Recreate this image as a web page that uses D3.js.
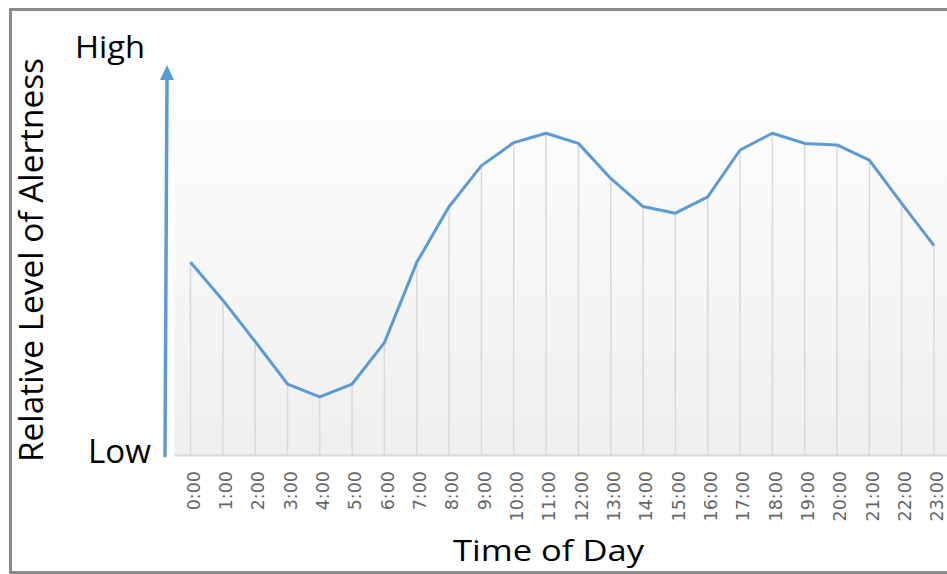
<!DOCTYPE html>
<html><head><meta charset="utf-8">
<script src="https://cdn.jsdelivr.net/npm/d3@7/dist/d3.min.js"></script>
<style>html,body{margin:0;padding:0;background:#fff;overflow:hidden}</style>
</head><body>
<svg id="c" width="947" height="574"></svg>
<script>
const hours = ["0:00","1:00","2:00","3:00","4:00","5:00","6:00","7:00","8:00","9:00","10:00","11:00","12:00","13:00","14:00","15:00","16:00","17:00","18:00","19:00","20:00","21:00","22:00","23:00"];
const alertness = [49.4,39.7,29.1,18.2,14.9,18.2,28.8,49.4,63.7,74.2,80.1,82.5,79.9,70.9,63.7,62.0,66.2,78.2,82.5,79.9,79.5,75.6,64.5,53.7];
const yLabels = ["Low","High"];
const xTitle = "Time of Day";
const yTitle = "Relative Level of Alertness";

const svg = d3.select("#c");
const blue = "#5b9bd5";
const x = d3.scalePoint().domain(hours).range([190.5, 934]);
const y = d3.scaleLinear().domain([0, 100]).range([455, 65]);

const defs = svg.append("defs");
const g = defs.append("linearGradient").attr("id","bg").attr("x1",0).attr("y1",0).attr("x2",0).attr("y2",1);
g.append("stop").attr("offset","0%").attr("stop-color","#ffffff");
g.append("stop").attr("offset","100%").attr("stop-color","#efefef");

// frame
svg.append("path").attr("d","M10.5,600 L10.5,9.5 L960,9.5").attr("fill","none").attr("stroke","#8c8c8c").attr("stroke-width",3);
svg.append("line").attr("x1",9).attr("x2",960).attr("y1",572.5).attr("y2",572.5).attr("stroke","#8c8c8c").attr("stroke-width",3);

// plot area
const step = x.step();
svg.append("rect").attr("x", x(hours[0]) - step/2).attr("y", y(100) - 5)
  .attr("width", 960).attr("height", y(0) - y(100) + 5).attr("fill","url(#bg)");

// drop lines
svg.append("g").selectAll("line").data(hours).join("line")
  .attr("x1", d => x(d)).attr("x2", d => x(d))
  .attr("y1", (d,i) => y(alertness[i])).attr("y2", y(0))
  .attr("stroke","#d9d9d9").attr("stroke-width",1.5);

// x axis line
svg.append("line").attr("x1", x(hours[0]) - step/2).attr("x2", 960)
  .attr("y1", y(0)+0.5).attr("y2", y(0)+0.5).attr("stroke","#d9d9d9").attr("stroke-width",2);

// x axis labels
const xa = svg.append("g").attr("transform", `translate(0,${y(0)})`)
  .call(d3.axisBottom(x).tickSize(0).tickPadding(0));
xa.select(".domain").remove();
xa.selectAll("text")
  .attr("transform","rotate(-90)")
  .attr("text-anchor","end")
  .attr("x", -16).attr("y", 0).attr("dy","0.5em")
  .style("font-family","'DejaVu Sans'").style("font-size","17.5px").attr("fill","#666666");

// series line
svg.append("path").datum(alertness)
  .attr("d", d3.line().x((d,i) => x(hours[i])).y(d => y(d)))
  .attr("fill","none").attr("stroke",blue).attr("stroke-width",3).attr("stroke-linejoin","round");

// y arrow
const ax0 = 165, ax1 = 167;
svg.append("line").attr("x1",ax0).attr("y1",y(0)+2).attr("x2",ax1).attr("y2",y(100)+12)
  .attr("stroke",blue).attr("stroke-width",3.5);
svg.append("path").attr("d",`M${ax1},${y(100)} L${ax1+7},${y(100)+15} L${ax1-7},${y(100)+15} Z`).attr("fill",blue);

// High / Low
const ft = "'Open Sans', Lato, sans-serif";
svg.append("text").attr("x",75).attr("y",57.5)
  .attr("textLength",70).attr("lengthAdjust","spacingAndGlyphs")
  .style("font-family",ft).style("font-size","31px").attr("fill","#000").text(yLabels[1]);
svg.append("text").attr("x",88).attr("y",462.5)
  .attr("textLength",63).attr("lengthAdjust","spacingAndGlyphs")
  .style("font-family",ft).style("font-size","32px").attr("fill","#000").text(yLabels[0]);

// titles
svg.append("text").attr("x",453).attr("y",561)
  .attr("textLength",191).attr("lengthAdjust","spacingAndGlyphs")
  .style("font-family",ft).style("font-size","30px").attr("fill","#000").text(xTitle);
svg.append("text").attr("transform","translate(43,462) rotate(-90)")
  .attr("textLength",404).attr("lengthAdjust","spacingAndGlyphs")
  .style("font-family",ft).style("font-size","32px").attr("fill","#000").text(yTitle);
</script>
</body></html>
